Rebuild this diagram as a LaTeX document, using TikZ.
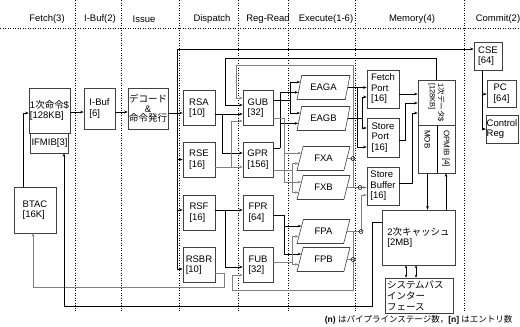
\documentclass[tikz,border=0pt]{standalone}
\usepackage{fontspec}
\setmainfont{Liberation Sans}
\newfontfamily\jp{Noto Sans CJK JP}
\usetikzlibrary{arrows.meta,shapes.geometric,calc}
\tikzset{
  blk/.style 2 args={draw=black!75,line width=0.6pt,minimum width=#1,minimum height=#2,inner sep=1pt,align=left},
  eu/.style={draw=black!75,line width=0.6pt,trapezium,trapezium left angle=67,trapezium right angle=113,trapezium stretches=true,minimum width=53pt,minimum height=24pt,inner sep=0pt},
  arr/.style={-{Stealth[length=3.5pt,width=2.6pt]}},
  dbl/.style={{Stealth[length=3pt,width=2.4pt]}-{Stealth[length=3pt,width=2.4pt]}},
  bl/.style={black,line width=0.6pt},
  gl/.style={black!50,line width=1pt},
  sep/.style={black,line width=0.6pt,dash pattern=on 1.2pt off 1.3pt},
  jn/.style={circle,draw=black,line width=0.5pt,inner sep=0pt,minimum size=4pt},
}
\begin{document}
\begin{tikzpicture}[x=1pt,y=-1pt,font=\fontsize{9.5}{10.5}\selectfont]
\useasboundingbox (0,0) rectangle (520,327);
\draw[sep] (0,28) -- (520,28);
\foreach \x in {75,121,179,238,288,355,464} \draw[sep] (\x,0) -- (\x,312);
\foreach \x/\t [count=\i] in {47/Fetch(3),100/I-Buf(2),144/Issue,212/Dispatch,268/Reg-Read,326/Execute(1-6),412/Memory(4),498/Commit(2)}
  \node (stage\i) at (\x,19) {\t};

\node[blk={37pt}{45pt}] (IC) at (49.5,110.5) {1{\jp 次命令}\$\\{}[128KB]};
\node[blk={37pt}{20pt}] (IFMIB) at (49.5,143) {IFMIB[3]};
\node[blk={31pt}{41pt}] (IBUF) at (99.5,108.5) {I-Buf\\{}[6]};
\node[blk={40pt}{41pt},align=center,font=\fontsize{9.5}{9.5}\selectfont] (DEC) at (148,108.5) {{\jp デコード}\\\&\\{\jp 命令発行}};
\node[blk={42pt}{46pt}] (BTAC) at (35,210) {BTAC\\{}[16K]};
\foreach \n/\y/\e in {RSA/108/10,RSE/159.5/16,RSF/212.5/16,RSBR/265/10}
  \node[blk={32pt}{35pt}] (\n) at (199,\y) {\n\\{}[\e]};
\foreach \n/\y/\e in {GUB/108/32,GPR/159.5/156,FPR/212.5/64,FUB/265/32}
  \node[blk={30pt}{35pt}] (\n) at (258,\y) {\n\\{}[\e]};
\foreach \n/\y in {EAGA/87.5,EAGB/118.5,FXA/158.5,FXB/187.5,FPA/231.5,FPB/259.5}{
  \node[eu] (\n) at (323.5,\y) {\n};
  \coordinate (\n-i1) at ($(\n.bottom left corner)!.72!(\n.top left corner)$);
  \coordinate (\n-i2) at ($(\n.bottom left corner)!.3!(\n.top left corner)$);
}
\node[blk={32pt}{38pt}] (FP) at (383,89) {Fetch\\Port\\{}[16]};
\node[blk={32pt}{39pt}] (SP) at (383,137.5) {Store\\Port\\{}[16]};
\node[blk={32pt}{38pt}] (SB) at (383,186) {Store\\Buffer\\{}[16]};
\node[blk={37pt}{45pt}] (DC) at (436.5,102.5) {};
\node[rotate=-90,align=left,font=\fontsize{7.5}{8.5}\selectfont] (DCtext) at (DC.center) {1{\jp 次データ}\$\\{}[128KB]};
\node[blk={19pt}{48pt}] (MOB) at (427.5,149) {};
\node[blk={18pt}{48pt}] (OPMIB) at (446,149) {};
\node[rotate=-90,anchor=west,font=\fontsize{8}{9}\selectfont] (MOBtext) at ([yshift=-2pt]MOB.north) {MOB};
\node[rotate=-90,anchor=west,font=\fontsize{8}{9}\selectfont] (OPMIBtext) at ([yshift=-2pt]OPMIB.north) {OPMIB [4]};
\draw[line width=1.3pt] (MOB.north east) -- (MOB.south east);
\node[blk={73pt}{55pt}] (L2) at (418.5,237.5) {2{\jp 次キャッシュ}\\{}[2MB]};
\node[blk={68pt}{35pt},text width=64pt,font=\fontsize{9.5}{11}\selectfont\jp] (SBI) at (419,295.5) {システムバス\\インター\\フェース};
\node[blk={28pt}{28pt}] (CSE) at (488,56) {CSE\\{}[64]};
\node[blk={29pt}{27pt}] (PC) at (501.5,93.5) {PC\\{}[64]};
\node[blk={30pt}{28pt},inner sep=0.5pt] (CR) at (502,129) {Control\\Reg};

\coordinate (iss) at (177,113);
\draw[bl,arr] (BTAC.north -| 23,0) |- (IC.west |- 0,113);
\draw[bl,arr] (IC.east |- 0,112) -- (IBUF.west |- 0,112);
\draw[bl,arr] (IBUF.east |- 0,112) -- (DEC.west |- 0,112);
\draw[bl,arr] (DEC.east |- iss) -- (RSA.west |- iss);
\draw[bl,arr] (iss) |- (CSE.west |- 0,49);
\draw[bl,arr] (iss) |- (RSE.west);
\draw[bl,arr] (iss) |- (RSF.west |- 0,210);
\draw[bl,arr] (iss) |- (RSBR.west |- 0,269);
\draw[gl,arr] (RSBR.east |- 0,273) -| (224,287) -| (BTAC.south -| 33,0);
\draw[bl,arr] (L2.west |- 0,222) -| (372,306) -| (IFMIB.south -| 64,0);

\draw[bl,arr] (RSA.east |- 0,114) -- (GUB.west |- 0,114);
\draw[bl,arr] (222,114) |- (GPR.west |- 0,153);
\draw[gl,arr] (RSE.east |- 0,167) -- (GPR.west |- 0,167);
\draw[gl,arr] (231,167) |- (GUB.west |- 0,121);
\draw[bl,arr] (RSF.east |- 0,210) -- (FPR.west |- 0,210);
\draw[bl,arr] (225,210) |- (FUB.west |- 0,267);
\draw[bl,arr] (DC.north) |- (225,58) |- (GUB.west |- 0,105);

\draw[bl] (GUB.east |- 0,100) -- (290,100);
\draw[bl,arr] (290,100) |- (EAGA-i1);
\draw[bl,arr] (290,100) |- (EAGB-i1);
\draw[bl] (GPR.east |- 0,148) -- (280,148);
\draw[bl,arr] (280,148) |- (EAGA-i2);
\draw[bl,arr] (280,148) |- (EAGB-i2);
\draw[gl] (GUB.east |- 0,118) -- (284,118);
\draw[gl,arr] (284,118) |- (FXA-i1);
\draw[gl,arr] (284,118) |- (FXB-i1);
\draw[gl] (GPR.east |- 0,170) -- (292,170);
\draw[gl,arr] (292,170) |- (FXA-i2);
\draw[gl,arr] (292,170) |- (FXB-i2);
\draw[bl] (FPR.east |- 0,215) -- (284,215);
\draw[bl,arr] (284,215) |- (FPA-i1);
\draw[bl,arr] (284,215) |- (FPB-i1);
\draw[gl] (FUB.east |- 0,262) -- (292,262);
\draw[gl,arr] (292,262) |- (FPA-i2);
\draw[gl,arr] (292,262) |- (FPB-i2);

\draw[gl] (FXA.east) -- (FXA.east -| 353,0);
\draw[gl,arr] (FXB.east) -- (FXB.east -| 353,0) -- (353,65) -| (236,98) -- (GUB.west |- 0,98);
\draw[gl,arr] (FXB.east -| 353,0) -- (SB.west |- FXB.east);
\draw[gl] (FPB.east) -- (FPB.east -| 353,0);
\draw[gl,arr] (FPA.east) -- (FPA.east -| 353,0) -- (353,290) -| (232,275) -- (FUB.west |- 0,275);
\draw[gl,arr] (FPA.east) -| (361,195) -- (SB.west |- 0,195);
\foreach \a/\x [count=\i] in {FXA/353,FXB/360,FPA/361,FPB/353}
  \node[jn] (jn\i) at (\a.east -| \x,0) {};

\draw[bl,arr] (EAGA.east) -- (FP.west |- EAGA.east);
\draw[bl,arr] (EAGA.east -| 357,0) |- (SP.west |- 0,147);
\draw[bl,arr] (EAGB.east) -| (362,97) -- (FP.west |- 0,97);
\draw[bl,arr] (EAGB.east -| 362,0) |- (SP.west |- 0,128);
\draw[bl,arr] (FP.east |- 0,94) -- (DC.west |- 0,94);
\draw[bl,arr] (SP.east |- 0,140) -| (405,103) -- (DC.west |- 0,103);
\draw[bl,arr] (SB.east |- 0,183) -| (412,113) -- (DC.west |- 0,113);
\draw[bl,arr] (MOB.south) -- (MOB.south |- L2.north);
\draw[bl,arr] (L2.north -| OPMIB.south) -- (OPMIB.south);
\draw[bl,dbl] (L2.south -| 406,0) -- (SBI.north -| 406,0);
\draw[bl,dbl] (L2.south -| 416,0) -- (SBI.north -| 416,0);
\draw[bl,arr] (CSE.south -| 482,0) |- (PC.west |- 0,94);
\draw[bl,arr] (CSE.south -| 482,0) |- (CR.west);

\node[anchor=east,font=\fontsize{8.5}{10}\selectfont] (note) at (516,320) {\textbf{(n)} {\jp はパイプラインステージ数，}\textbf{[n]} {\jp はエントリ数}};
\end{tikzpicture}
\end{document}
